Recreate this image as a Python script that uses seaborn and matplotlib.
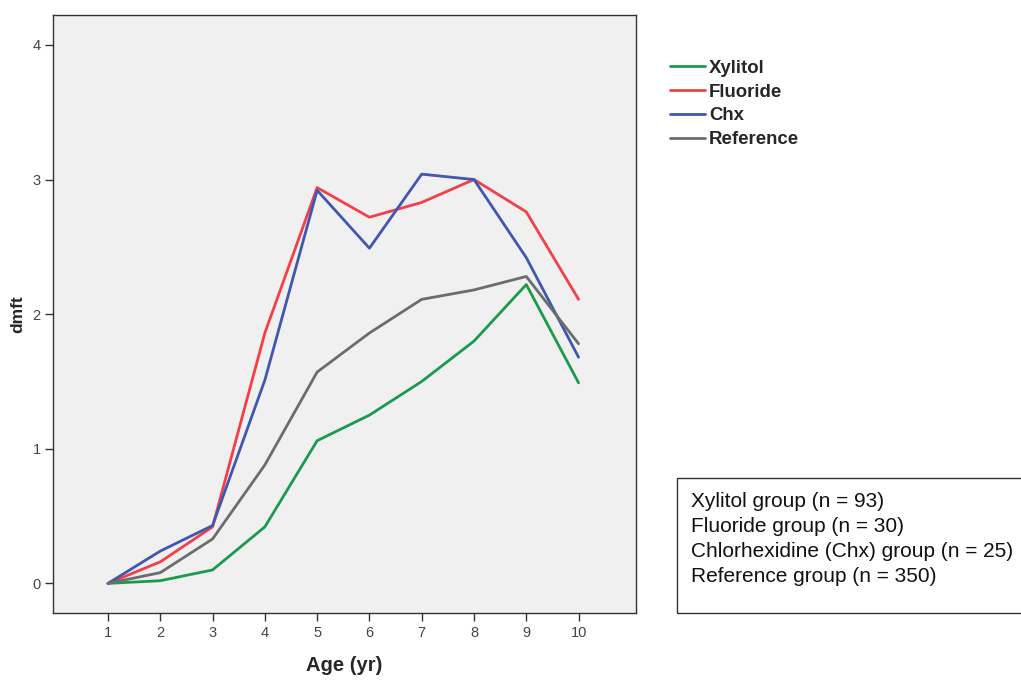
import pandas as pd
import matplotlib.pyplot as plt
import seaborn as sns
from matplotlib.patches import Rectangle

# data
ages = [1, 2, 3, 4, 5, 6, 7, 8, 9, 10]
xylitol = [0.0, 0.02, 0.10, 0.42, 1.06, 1.25, 1.50, 1.80, 2.22, 1.49]
fluoride = [0.0, 0.16, 0.42, 1.86, 2.94, 2.72, 2.83, 3.00, 2.76, 2.11]
chx = [0.0, 0.24, 0.43, 1.51, 2.92, 2.49, 3.04, 3.00, 2.42, 1.68]
reference = [0.0, 0.08, 0.33, 0.88, 1.57, 1.86, 2.11, 2.18, 2.28, 1.78]
groups = ["Xylitol", "Fluoride", "Chx", "Reference"]
colors = ["#1a9a4c", "#f2404a", "#3f57b0", "#6c6c6c"]
box_lines = ["Xylitol group (n = 93)", "Fluoride group (n = 30)",
             "Chlorhexidine (Chx) group (n = 25)", "Reference group (n = 350)"]

df = pd.DataFrame({
    "age": ages * 4,
    "dmft": xylitol + fluoride + chx + reference,
    "group": [g for g in groups for _ in ages],
})

sns.set_style("ticks")
plt.rcParams["font.family"] = ["Liberation Sans", "DejaVu Sans"]

fig = plt.figure(figsize=(10.21, 6.8), dpi=100)
ax = fig.add_axes([0.052, 0.0985, 0.571, 0.879])
ax.set_facecolor("#f0f0f0")

sns.lineplot(data=df, x="age", y="dmft", hue="group", hue_order=groups,
             palette=colors, linewidth=2, ax=ax, legend=False)

ax.set_xlim(-0.05, 11.1)
ax.set_ylim(-0.22, 4.22)
ax.set_xticks(ages)
ax.set_yticks([0, 1, 2, 3, 4])
ax.tick_params(labelsize=10.5, length=5.5, width=1, colors="#333333", labelcolor="#444444")
for s in ax.spines.values():
    s.set_color("#333333")
    s.set_linewidth(1)
ax.set_xlabel("Age (yr)", fontsize=14.5, fontweight="bold", labelpad=12)
ax.set_ylabel("dmft", fontsize=12.5, fontweight="bold", labelpad=5)

handles = [plt.Line2D([], [], color=c, lw=2) for c in colors]
fig.legend(handles, groups, loc="upper left", bbox_to_anchor=(0.656, 0.912),
           frameon=False, prop={"weight": "bold", "size": 13.4},
           borderpad=0, borderaxespad=0,
           handlelength=1.9, handletextpad=0.2, labelspacing=0.36)

fig.add_artist(Rectangle((0.663, 0.098), 0.36, 0.199, transform=fig.transFigure,
                         fill=False, edgecolor="#333333", linewidth=1))
fig.text(0.677, 0.276, "\n".join(box_lines), fontsize=15, va="top",
         linespacing=1.39, color="#111111")

fig.savefig("out.png", dpi=100)
